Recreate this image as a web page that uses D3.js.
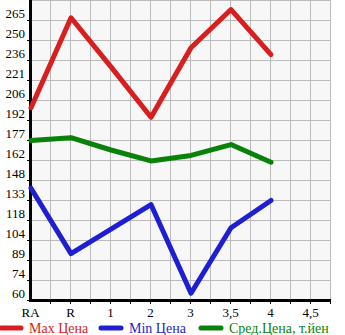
<!DOCTYPE html>
<html>
<head>
<meta charset="utf-8">
<script src="https://cdn.jsdelivr.net/npm/d3@7"></script>
<style>
  body { margin: 0; background: #fff; }
  svg text { font-family: "Liberation Serif", serif; }
</style>
</head>
<body>
<div id="chart-area"></div>
<script>
// chart data
let categories = ["RA", "R", "1", "2", "3", "3,5", "4", "4,5"];
let maxPrice = [201, 267, 231, 194, 245, 273, 240, null];
let minPrice = [142, 94, 112, 130, 65, 113, 133, null];
let avgPrice = [177, 179, 170, 162, 166, 174, 161, null];
let yTickValues = [60, 74.67, 89.33, 104, 118.67, 133.33, 148, 162.67, 177.33, 192, 206.67, 221.33, 236, 250.67, 265.33];
let legendNames = ["Max Цена", "Min Цена", "Сред.Цена, т.йен"];

let margin = { top: 0, left: 31, right: 15, bottom: 35 };
let width = 345 - margin.left - margin.right,
    height = 335 - margin.top - margin.bottom;

let svg = d3.select("#chart-area").append("svg")
    .attr("width", 345)
    .attr("height", 335)
    .append("g")
    .attr("transform", "translate(" + margin.left + "," + margin.top + ")");

// scales
let x = d3.scalePoint()
    .domain(categories)
    .range([0, 280]);

let y = d3.scaleLinear()
    .domain([60, 280])
    .range([height, 0]);

// background
svg.append("rect")
    .attr("x", 0)
    .attr("y", 0)
    .attr("width", 300)
    .attr("height", height)
    .attr("fill", "#f7f7f7");

// grid
let gridX = d3.range(0, 16).map(i => i * 20 - 1);
svg.selectAll(".vgrid")
    .data(gridX.filter(d => d > 0))
    .enter().append("line")
    .attr("class", "vgrid")
    .attr("x1", d => d + 0.5).attr("x2", d => d + 0.5)
    .attr("y1", 0).attr("y2", height)
    .attr("stroke", "#bbbbbb")
    .attr("stroke-width", 1);

svg.selectAll(".hgrid")
    .data(yTickValues.concat([280]))
    .enter().append("line")
    .attr("class", "hgrid")
    .attr("x1", 0).attr("x2", 300)
    .attr("y1", d => Math.round(y(d)) + 0.5)
    .attr("y2", d => Math.round(y(d)) + 0.5)
    .attr("stroke", "#bbbbbb")
    .attr("stroke-width", 1);

// y axis
let yAxis = d3.axisLeft(y)
    .tickValues(yTickValues)
    .tickSize(4)
    .tickFormat(d => Math.floor(d));

let yAxisGroup = svg.append("g")
    .attr("class", "y-axis")
    .call(yAxis);
yAxisGroup.select(".domain").remove();
yAxisGroup.selectAll(".tick line").attr("stroke", "#000");
yAxisGroup.selectAll(".tick text")
    .attr("x", -6)
    .attr("dy", "-0.2em")
    .attr("fill", "#000")
    .style("font-size", "13px");

// x axis
let xAxis = d3.axisBottom(x).tickSize(0);
let xAxisGroup = svg.append("g")
    .attr("class", "x-axis")
    .attr("transform", "translate(0," + height + ")")
    .call(xAxis);
xAxisGroup.select(".domain").remove();
xAxisGroup.selectAll(".tick text")
    .attr("y", 8)
    .attr("x", -1)
    .attr("fill", "#000")
    .style("font-size", "13px");

// x small ticks
svg.selectAll(".xtick")
    .data(gridX.filter(d => d > 0))
    .enter().append("line")
    .attr("class", "xtick")
    .attr("x1", d => d + 0.5).attr("x2", d => d + 0.5)
    .attr("y1", height).attr("y2", height + 4)
    .attr("stroke", "#000");

// axis lines
svg.append("line")
    .attr("x1", -0.5).attr("x2", -0.5)
    .attr("y1", 0).attr("y2", height + 1)
    .attr("stroke", "#000").attr("stroke-width", 3);
svg.append("line")
    .attr("x1", -2).attr("x2", 300)
    .attr("y1", height + 0.5).attr("y2", height + 0.5)
    .attr("stroke", "#000").attr("stroke-width", 3);

// lines
let series = [
    { values: maxPrice, color: "#d81e1e" },
    { values: minPrice, color: "#1e1ed2" },
    { values: avgPrice, color: "#0a820a" }
];

let line = d3.line()
    .defined(d => d.v != null)
    .x(d => x(d.c))
    .y(d => y(d.v));

series.slice().reverse().forEach(function (s) {
    svg.append("path")
        .datum(categories.map((c, i) => ({ c: c, v: s.values[i] })))
        .attr("fill", "none")
        .attr("stroke", s.color)
        .attr("stroke-width", 5)
        .attr("stroke-linejoin", "round")
        .attr("stroke-linecap", "round")
        .attr("d", line);
});

// legend
let legendX = [0, 100, 200];
let legend = d3.select("svg").append("g")
    .attr("transform", "translate(0,328)");

legendNames.forEach(function (name, i) {
    legend.append("line")
        .attr("x1", legendX[i] + 1).attr("x2", legendX[i] + 21)
        .attr("y1", 0).attr("y2", 0)
        .attr("stroke", series[i].color)
        .attr("stroke-width", 5)
        .attr("stroke-linecap", "round");
    legend.append("text")
        .attr("x", legendX[i] + 29)
        .attr("y", 5)
        .attr("fill", series[i].color)
        .style("font-size", "14px")
        .text(name);
});
</script>
</body>
</html>
